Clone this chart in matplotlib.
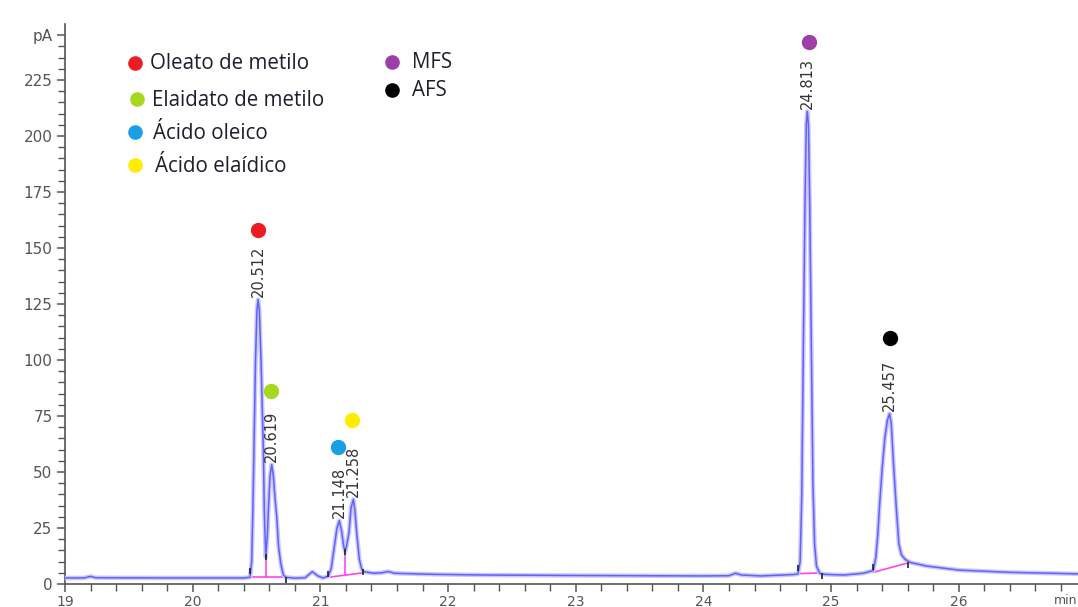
"""
Cromatograma GC-FID: ésteres metílicos y ácidos oleico / elaídico
"""
import matplotlib
matplotlib.use("Agg")
import matplotlib.pyplot as plt

# trace (time in min, signal in pA)
rt_trace = [19.00, 19.15, 19.20, 19.24, 19.80, 20.40, 20.449, 20.462, 20.472, 20.480,
            20.492, 20.503, 20.512, 20.522, 20.535, 20.553, 20.561, 20.572, 20.585, 20.592,
            20.605, 20.619, 20.632, 20.645, 20.658, 20.672, 20.69, 20.71, 20.73, 20.80,
            20.88, 20.937, 20.98, 21.02, 21.062, 21.085, 21.109, 21.13, 21.148, 21.165,
            21.182, 21.193, 21.205, 21.224, 21.24, 21.258, 21.27, 21.284, 21.305, 21.322,
            21.336, 21.42, 21.48, 21.53, 21.58, 21.70, 21.90, 22.30, 23.00, 24.00,
            24.20, 24.25, 24.30, 24.45, 24.70, 24.74, 24.757, 24.77, 24.782, 24.795,
            24.805, 24.813, 24.822, 24.832, 24.845, 24.857, 24.87, 24.885, 24.91, 24.95,
            25.10, 25.25, 25.33, 25.35, 25.365, 25.38, 25.40, 25.42, 25.44, 25.457,
            25.47, 25.49, 25.51, 25.53, 25.55, 25.58, 25.62, 25.75, 26.00, 26.40,
            26.95]
signal_trace = [2.7, 2.7, 3.4, 2.8, 2.7, 2.7, 3.0, 10, 35, 61,
                100, 122, 127, 122, 100, 61, 32, 12, 22, 32,
                48, 53.3, 48, 38, 30, 17, 9, 4, 3.0, 2.6,
                2.8, 5.5, 3.6, 2.7, 3.5, 7, 16.7, 25, 28.3, 24,
                17, 14.5, 17, 23, 34, 37.8, 33, 23, 11, 7,
                5.5, 4.8, 5.0, 5.6, 4.8, 4.6, 4.3, 4.0, 3.8, 3.6,
                3.7, 4.8, 4.0, 3.6, 4.2, 4.5, 10, 40, 105, 170,
                205, 211, 205, 170, 105, 45, 18, 8, 4.8, 4.3,
                4.0, 4.8, 6, 12, 22, 36, 52, 65, 73, 76,
                72, 52, 34, 18, 13, 11, 9.6, 8, 6.2, 5.2,
                4.5]

# integrated peaks
peak_rt = [20.512, 20.619, 21.148, 21.258, 24.813, 25.457]
peak_height = [127, 53.3, 28.3, 37.8, 211, 76]
peak_labels = ["20.512", "20.619", "21.148", "21.258", "24.813", "25.457"]

# integration baselines (start/end time and level) and drop lines
base_t0 = [20.449, 21.062, 24.74, 25.33]
base_v0 = [3.2, 3.0, 4.6, 5.2]
base_t1 = [20.73, 21.336, 24.93, 25.60]
base_v1 = [3.2, 5.0, 5.0, 9.4]
drop_t = [20.572, 21.193]
drop_v0 = [3.2, 3.8]
drop_v1 = [12, 14.5]
event_t = [20.449, 20.572, 20.73, 21.062, 21.193, 21.336, 24.74, 24.93, 25.33, 25.60]
event_v = [6, 12, 2.0, 4.5, 14.5, 5.5, 7, 3.5, 7.5, 8.5]

# compound identification markers
compounds = ["Oleato de metilo", "Elaidato de metilo", "Ácido oleico",
             "Ácido elaídico", "MFS", "AFS"]
compound_colors = ["#ec1c24", "#a6d81e", "#1b9fe4", "#ffec00", "#9c3fa9", "#000000"]
marker_rt = [20.512, 20.614, 21.138, 21.247, 24.826, 25.46]
marker_pa = [158, 86, 61, 73, 242, 110]

y_ticks = [0, 25, 50, 75, 100, 125, 150, 175, 200, 225]
x_ticks = [19, 20, 21, 22, 23, 24, 25, 26]


def main():
    fig = plt.figure(figsize=(10.78, 6.07), dpi=100)
    ax = fig.add_axes([0.0603, 0.0379, 0.9397, 0.9226])

    # light halo + core line, like the instrument export
    ax.plot(rt_trace, signal_trace, color="#c8c8ff", lw=3.2, zorder=3,
            solid_joinstyle="round")
    ax.plot(rt_trace, signal_trace, color="#6262f4", lw=1.1, zorder=3)

    for t0, v0, t1, v1 in zip(base_t0, base_v0, base_t1, base_v1):
        ax.plot([t0, t1], [v0, v1], color="#ff44ee", lw=1.2, zorder=2)
    for t, v0, v1 in zip(drop_t, drop_v0, drop_v1):
        ax.plot([t, t], [v0, v1], color="#ff44ee", lw=1.2, zorder=2)
    ax.plot(event_t, event_v, ls="none", marker="|", ms=5, mew=1.2,
            color="#222222", zorder=4)

    for t, h, lab in zip(peak_rt, peak_height, peak_labels):
        ax.annotate(lab, (t, h), xytext=(0, 2), textcoords="offset points",
                    rotation=90, ha="center", va="bottom", fontsize=10.5,
                    color="#333333")

    for t, v, c in zip(marker_rt, marker_pa, compound_colors):
        ax.plot(t, v, marker="o", ms=10, color=c, mec=c, zorder=5)

    # legend written by hand, as in the original figure
    leg_dot = [(0.069, 0.930), (0.071, 0.866), (0.069, 0.807), (0.069, 0.748),
               (0.323, 0.932), (0.323, 0.882)]
    leg_txt = [(0.084, 0.930), (0.086, 0.8625), (0.087, 0.805), (0.089, 0.746),
               (0.3425, 0.932), (0.3425, 0.882)]
    for name, c, (dx, dy), (tx, ty) in zip(compounds, compound_colors, leg_dot, leg_txt):
        ax.plot(dx, dy, marker="o", ms=9.5, color=c, transform=ax.transAxes,
                clip_on=False)
        ax.text(tx, ty, name, transform=ax.transAxes, ha="left", va="center",
                fontsize=14.8, family="Open Sans", color="#1e1e2e")

    ax.set_xlim(19, 26.933)
    ax.set_ylim(0, 250)
    ax.set_xticks(x_ticks)
    ax.set_xticks([19 + 0.2 * i for i in range(40)], minor=True)
    ax.set_yticks(y_ticks + [245])
    ax.set_yticklabels([str(v) for v in y_ticks] + ["pA"])
    ax.set_yticks(list(range(0, 250, 5)), minor=True)

    for side in ["top", "right"]:
        ax.spines[side].set_visible(False)
    for side in ["left", "bottom"]:
        ax.spines[side].set_color("#555555")
        ax.spines[side].set_linewidth(1.2)

    ax.tick_params(axis="both", which="major", direction="out", length=6,
                   width=1.1, color="#555555", labelsize=11, labelcolor="#555555")
    ax.tick_params(axis="both", which="minor", direction="out", length=5,
                   width=1.0, color="#555555")
    ax.tick_params(axis="x", pad=2, labelsize=10)
    ax.tick_params(axis="y", pad=3)

    ax.text(0.999, -0.029, "min", transform=ax.transAxes, ha="right", va="center",
            fontsize=9, color="#555555", clip_on=False)

    fig.savefig("out.png", dpi=100)


if __name__ == "__main__":
    main()
